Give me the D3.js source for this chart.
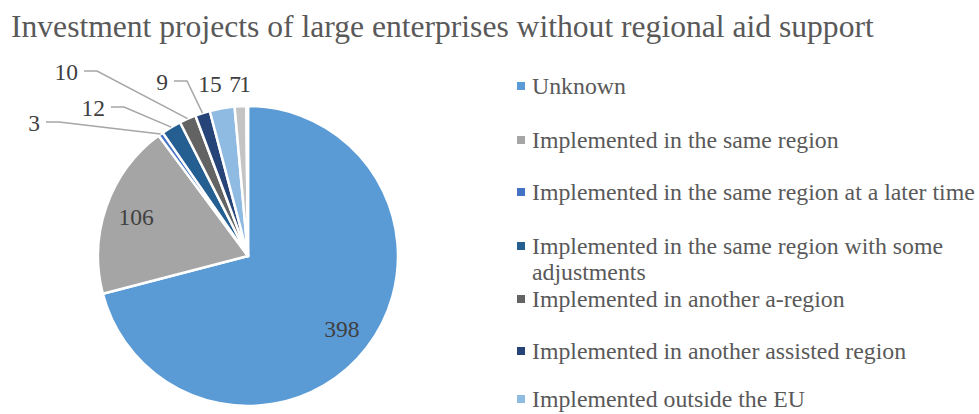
<!DOCTYPE html>
<html>
<head>
<meta charset="utf-8">
<script src="https://cdn.jsdelivr.net/npm/d3@7"></script>
<style>
  body { margin: 0; background: #fff; }
  svg { display: block; }
  text { font-family: "Liberation Serif", "Times New Roman", serif; }
</style>
</head>
<body>
<div id="chart"></div>
<script>
    var width = 979,
      height = 414;

    // data
    var categories = [
      "Unknown",
      "Implemented in the same region",
      "Implemented in the same region at a later time",
      "Implemented in the same region with some adjustments",
      "Implemented in another a-region",
      "Implemented in another assisted region",
      "Implemented outside the EU",
      "Not implemented",
      "Other"
    ];
    var values = [398, 106, 3, 12, 10, 9, 15, 7, 1];
    var colors = ["#5b9bd5", "#a5a5a5", "#4472c4", "#255e91", "#636363",
                  "#264478", "#8fbbe3", "#c4c4c4", "#698ed0"];

    // where the outside labels sit (offset from pie centre), null = inside label
    var labelSpots = [null, null, [-208, -133], [-143, -148], [-170, -184],
                      [-80, -174], [-38, -172], [-13, -172], [-3, -172]];
    var leader = [false, false, true, true, true, true, false, false, false];

    var cx = 248, cy = 256, r = 150;

    var svg = d3.select("#chart").append("svg")
      .attr("width", width)
      .attr("height", height);

    svg.append("text")
      .attr("x", 11)
      .attr("y", 37)
      .style("font-size", "31.6px")
      .style("fill", "#595959")
      .text("Investment projects of large enterprises without regional aid support");

    var pie = d3.pie().sort(null).value(function(d){ return d; });
    var arcs = pie(values);

    var arc = d3.arc().innerRadius(0).outerRadius(r);
    var labelArc = d3.arc().innerRadius(r * 0.79).outerRadius(r * 0.79);

    var g = svg.append("g")
      .attr("transform", "translate(" + cx + "," + cy + ")");

    g.selectAll("path.slice")
      .data(arcs)
      .enter().append("path")
      .attr("class", "slice")
      .attr("d", arc)
      .style("fill", function(d, i){ return colors[i]; })
      .style("stroke", "#fff")
      .style("stroke-width", 2.5)
      .style("stroke-linejoin", "round");

    // leader lines for small slices
    g.selectAll("polyline")
      .data(arcs.filter(function(d, i){ return leader[i]; }))
      .enter().append("polyline")
      .attr("points", function(d){
        var i = d.index,
            mid = (d.startAngle + d.endAngle) / 2,
            ex = Math.sin(mid) * r,
            ey = -Math.cos(mid) * r,
            sx = labelSpots[i][0] + 6,
            sy = labelSpots[i][1] - 1;
        return [[sx, sy], [sx + 13, sy], [ex, ey]].join(" ");
      })
      .style("fill", "none")
      .style("stroke", "#a6a6a6")
      .style("stroke-width", 1.5);

    g.selectAll("text.val")
      .data(arcs)
      .enter().append("text")
      .attr("class", "val")
      .attr("transform", function(d, i){
        var p = labelSpots[i] ? labelSpots[i] : labelArc.centroid(d);
        return "translate(" + p + ")";
      })
      .attr("text-anchor", function(d, i){ return labelSpots[i] && leader[i] ? "end" : "middle"; })
      .attr("dy", "0.35em")
      .style("font-size", "23.5px")
      .style("fill", "#404040")
      .text(function(d){ return d.data; });

    // legend (only the entries that fit in the frame are shown)
    var legendY = [86, 140, 192, 246, 299, 351, 399];
    var legend = svg.selectAll(".legend")
      .data(categories.slice(0, legendY.length))
      .enter().append("g")
      .attr("class", "legend")
      .attr("transform", function(d, i){ return "translate(517," + legendY[i] + ")"; })
      .style("font-size", "23.8px");

    legend.append("rect")
      .attr("x", 0)
      .attr("y", -4)
      .attr("width", 8)
      .attr("height", 8)
      .attr("fill", function(d, i){ return colors[i]; });

    legend.append("text")
      .attr("x", 15)
      .attr("dy", "0.35em")
      .style("fill", "#595959")
      .each(function(d){
        var t = d3.select(this);
        if (d === "Implemented in the same region with some adjustments") {
          t.append("tspan").attr("x", 15).text("Implemented in the same region with some");
          t.append("tspan").attr("x", 15).attr("dy", 26).text("adjustments");
        } else {
          t.text(d);
        }
      });
</script>
</body>
</html>
